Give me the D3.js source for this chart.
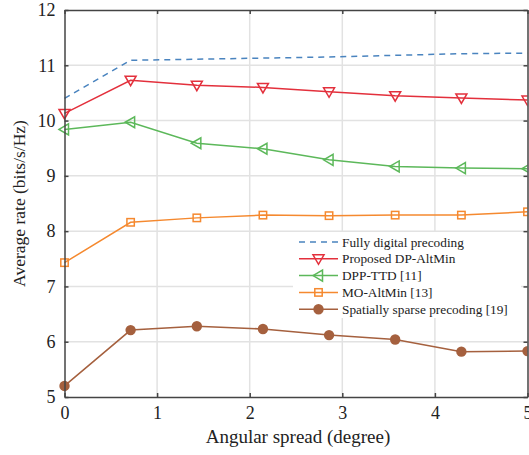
<!DOCTYPE html>
<html>
<head>
<meta charset="utf-8">
<script src="https://cdn.jsdelivr.net/npm/d3@7"></script>
<style>
  body { margin: 0; background: #fff; }
  svg text { font-family: "Liberation Serif", "Times New Roman", serif; fill: #222; }
</style>
</head>
<body>
<div id="chart"></div>
<script>
// angular spread samples (degree)
const spread = [0, 0.714, 1.429, 2.143, 2.857, 3.571, 4.286, 5];

const fullyDigital = [10.40, 11.09, 11.11, 11.13, 11.15, 11.18, 11.21, 11.22];
const dpAltMin     = [10.13, 10.73, 10.64, 10.60, 10.52, 10.45, 10.41, 10.37];
const dppTTD       = [9.84, 9.97, 9.59, 9.49, 9.29, 9.17, 9.14, 9.13];
const moAltMin     = [7.43, 8.16, 8.24, 8.29, 8.28, 8.29, 8.29, 8.35];
const sparse       = [5.20, 6.21, 6.28, 6.23, 6.12, 6.04, 5.82, 5.83];

const xTicks = [0, 1, 2, 3, 4, 5];
const yTicks = [5, 6, 7, 8, 9, 10, 11, 12];

const series = [
  {name: 'Fully digital precoding', vals: fullyDigital, color: '#4a84bf', dash: '6,5', marker: null},
  {name: 'Proposed DP-AltMin', vals: dpAltMin, color: '#e3303c', marker: 'down'},
  {name: 'DPP-TTD [11]', vals: dppTTD, color: '#5cb85a', marker: 'left'},
  {name: 'MO-AltMin [13]', vals: moAltMin, color: '#f5892f', marker: 'square'},
  {name: 'Spatially sparse precoding [19]', vals: sparse, color: '#a5603e', marker: 'circle'}
];

const width = 529, height = 455;
const margin = {top: 10, right: 1.5, bottom: 58, left: 64.5};
const w = width - margin.left - margin.right;
const h = height - margin.top - margin.bottom;

const svg = d3.select('#chart').append('svg')
  .attr('width', width)
  .attr('height', height);

const g = svg.append('g')
  .attr('transform', `translate(${margin.left},${margin.top})`);

const x = d3.scaleLinear().domain([0, 5]).range([0, w]);
const y = d3.scaleLinear().domain([5, 12]).range([h, 0]);

// grid
g.append('g').selectAll('line')
  .data(xTicks.slice(1, -1)).enter().append('line')
  .attr('x1', d => x(d)).attr('x2', d => x(d))
  .attr('y1', 0).attr('y2', h)
  .attr('stroke', '#e2e2e2').attr('stroke-width', 1.5);
g.append('g').selectAll('line')
  .data(yTicks.slice(1, -1)).enter().append('line')
  .attr('x1', 0).attr('x2', w)
  .attr('y1', d => y(d)).attr('y2', d => y(d))
  .attr('stroke', '#e2e2e2').attr('stroke-width', 1.5);

// clip for the lines / markers
svg.append('defs').append('clipPath').attr('id', 'clip')
  .append('rect').attr('x', -10).attr('y', -10).attr('width', w + 10).attr('height', h + 20);

const plot = g.append('g').attr('clip-path', 'url(#clip)');

const line = d3.line()
  .x((d, i) => x(spread[i]))
  .y(d => y(d));

series.forEach(s => {
  plot.append('path')
    .datum(s.vals)
    .attr('fill', 'none')
    .attr('stroke', s.color)
    .attr('stroke-width', 1.5)
    .attr('stroke-dasharray', s.dash || null)
    .attr('d', line);
});

function drawMarker(sel, type, color) {
  if (type === 'down') {
    sel.append('path').attr('d', 'M-5.5,-4 L5.5,-4 L0,5.5 Z')
      .attr('fill', 'none').attr('stroke', color).attr('stroke-width', 1.5);
  } else if (type === 'left') {
    sel.append('path').attr('d', 'M-5.5,0 L4,-5.5 L4,5.5 Z')
      .attr('fill', 'none').attr('stroke', color).attr('stroke-width', 1.5);
  } else if (type === 'square') {
    sel.append('rect').attr('x', -3.7).attr('y', -3.7).attr('width', 7.4).attr('height', 7.4)
      .attr('fill', 'none').attr('stroke', color).attr('stroke-width', 1.5);
  } else if (type === 'circle') {
    sel.append('circle').attr('r', 5.2).attr('fill', color);
  }
}

series.filter(s => s.marker).forEach(s => {
  plot.append('g').selectAll('g')
    .data(s.vals).enter().append('g')
    .attr('transform', (d, i) => `translate(${x(spread[i])},${y(d)})`)
    .each(function() { drawMarker(d3.select(this), s.marker, s.color); });
});

// axes (ticks inside on all four sides)
const axisColor = '#444';
const fmt = d3.format('d');
const axBottom = g.append('g').attr('transform', `translate(0,${h})`)
  .call(d3.axisBottom(x).tickValues(xTicks).tickSizeInner(-4).tickSizeOuter(0).tickPadding(9).tickFormat(fmt));
const axLeft = g.append('g')
  .call(d3.axisLeft(y).tickValues(yTicks).tickSizeInner(-4).tickSizeOuter(0).tickPadding(9).tickFormat(fmt));
const axTop = g.append('g')
  .call(d3.axisTop(x).tickValues(xTicks).tickSizeInner(-4).tickSizeOuter(0).tickFormat(''));
const axRight = g.append('g').attr('transform', `translate(${w},0)`)
  .call(d3.axisRight(y).tickValues(yTicks).tickSizeInner(-4).tickSizeOuter(0).tickFormat(''));

[axBottom, axLeft, axTop, axRight].forEach(a => {
  a.select('.domain').attr('stroke', axisColor).attr('stroke-width', 1.5);
  a.selectAll('.tick line').attr('stroke', axisColor).attr('stroke-width', 1.5);
  a.selectAll('.tick text')
    .style('font-family', '"Liberation Serif", "Times New Roman", serif')
    .style('font-size', '18px').attr('fill', '#222');
});

// axis titles
svg.append('text')
  .attr('x', margin.left + w / 2 + 2).attr('y', 443)
  .attr('text-anchor', 'middle')
  .style('font-size', '19px')
  .text('Angular spread (degree)');

svg.append('text')
  .attr('transform', `translate(25,${margin.top + h / 2}) rotate(-90)`)
  .attr('text-anchor', 'middle')
  .style('font-size', '17.5px')
  .text('Average rate (bits/s/Hz)');

// legend
const legend = svg.append('g').attr('transform', 'translate(293,232)');
legend.append('rect')
  .attr('width', 228).attr('height', 86)
  .attr('fill', '#fff');

series.forEach((s, i) => {
  const row = legend.append('g').attr('transform', `translate(0,${10 + i * 16.8})`);
  row.append('line')
    .attr('x1', 6).attr('x2', 45)
    .attr('stroke', s.color).attr('stroke-width', 1.5)
    .attr('stroke-dasharray', s.dash || null);
  if (s.marker) {
    const m = row.append('g').attr('transform', 'translate(25.5,0)');
    drawMarker(m, s.marker, s.color);
  }
  row.append('text')
    .attr('x', 49).attr('dy', '0.35em')
    .style('font-size', '13.3px')
    .text(s.name);
});
</script>
</body>
</html>
